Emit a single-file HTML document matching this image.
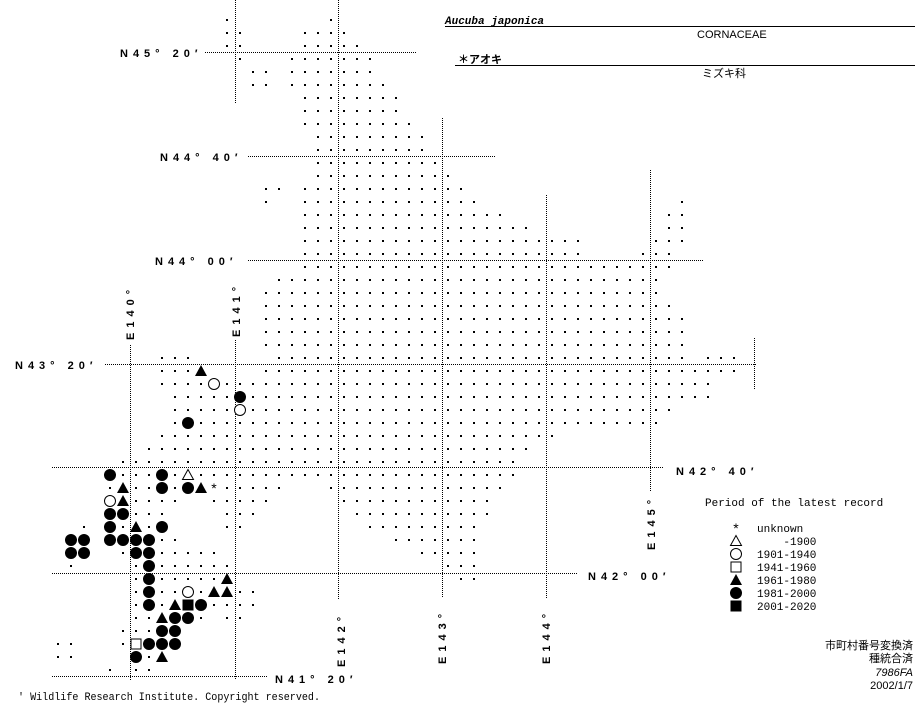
<!DOCTYPE html>
<html><head><meta charset="utf-8">
<style>
html,body{margin:0;padding:0;background:#fff;}
svg{display:block;}
.lab{font-family:"Liberation Sans",sans-serif;font-weight:bold;font-size:11px;letter-spacing:5px;fill:#000;}
.t{font-family:"Liberation Mono","Noto Sans CJK JP",monospace;font-size:11px;fill:#000;white-space:pre;}
.j{font-family:"Liberation Sans","Noto Sans CJK JP",sans-serif;font-size:11px;fill:#000;}
</style></head><body>
<svg id="m" width="923" height="703" viewBox="0 0 923 703" xmlns="http://www.w3.org/2000/svg">
<g stroke="#000" stroke-width="1" stroke-dasharray="1 1" fill="none">
<line x1="205" y1="52.5" x2="417" y2="52.5"/>
<line x1="248" y1="156.5" x2="495" y2="156.5"/>
<line x1="248" y1="260.5" x2="703" y2="260.5"/>
<line x1="105" y1="364.5" x2="757" y2="364.5"/>
<line x1="52" y1="467.5" x2="663" y2="467.5"/>
<line x1="52" y1="573.5" x2="578" y2="573.5"/>
<line x1="52" y1="676.5" x2="268" y2="676.5"/>
<line x1="130.5" y1="345" x2="130.5" y2="680"/>
<line x1="235.5" y1="0" x2="235.5" y2="104"/>
<line x1="235.5" y1="340" x2="235.5" y2="680"/>
<line x1="338.5" y1="0" x2="338.5" y2="600"/>
<line x1="442.5" y1="118" x2="442.5" y2="598"/>
<line x1="546.5" y1="195" x2="546.5" y2="598"/>
<line x1="650.5" y1="170" x2="650.5" y2="492"/>
<line x1="754.5" y1="338" x2="754.5" y2="390"/>
</g>
<text class="lab" x="120" y="57">N45° 20′</text>
<text class="lab" x="160" y="161">N44° 40′</text>
<text class="lab" x="155" y="265">N44° 00′</text>
<text class="lab" x="15" y="369">N43° 20′</text>
<text class="lab" x="676" y="475">N42° 40′</text>
<text class="lab" x="588" y="580">N42° 00′</text>
<text class="lab" x="275" y="683">N41° 20′</text>
<text class="lab" transform="translate(134,340) rotate(-90)">E140°</text>
<text class="lab" transform="translate(240,337) rotate(-90)">E141°</text>
<text class="lab" transform="translate(345,667) rotate(-90)">E142°</text>
<text class="lab" transform="translate(446,664) rotate(-90)">E143°</text>
<text class="lab" transform="translate(550,664) rotate(-90)">E144°</text>
<text class="lab" transform="translate(655,550) rotate(-90)">E145°</text>

<text x="445" y="24" style="font-family:'Liberation Mono',monospace;font-size:11px;font-weight:bold;font-style:italic">Aucuba japonica</text>
<line x1="445" y1="26.5" x2="915" y2="26.5" stroke="#000"/>
<text class="j" x="697" y="38">CORNACEAE</text>
<text class="j" x="458" y="63" style="font-weight:bold">＊アオキ</text>
<line x1="455" y1="65.5" x2="915" y2="65.5" stroke="#000"/>
<text class="j" x="702" y="77">ミズキ科</text>

<text class="t" x="705" y="506">Period of the latest record</text>
<g id="leg"></g>
<text class="t" x="757" y="532">unknown</text>
<text class="t" x="757" y="545" xml:space="preserve">    -1900</text>
<text class="t" x="757" y="558">1901-1940</text>
<text class="t" x="757" y="571">1941-1960</text>
<text class="t" x="757" y="584">1961-1980</text>
<text class="t" x="757" y="597">1981-2000</text>
<text class="t" x="757" y="610">2001-2020</text>

<text class="j" x="913" y="649" text-anchor="end">市町村番号変換済</text>
<text class="j" x="913" y="662" text-anchor="end">種統合済</text>
<text class="j" x="913" y="676" text-anchor="end" style="font-style:italic">7986FA</text>
<text class="j" x="913" y="689" text-anchor="end">2002/1/7</text>
<text class="t" x="18" y="700" textLength="302" lengthAdjust="spacingAndGlyphs">' Wildlife Research Institute. Copyright reserved.</text>
<g id="d"></g>
</svg>
<script>
var R={
0:[[0,0],[8,8]],1:[[0,1],[6,9]],2:[[0,1],[6,10]],3:[[1,1],[5,11]],4:[[2,3],[5,11]],5:[[2,3],[5,12]],
6:[[6,13]],7:[[6,13]],8:[[6,14]],9:[[7,15]],10:[[7,15]],11:[[7,16]],12:[[7,17]],
13:[[3,4],[6,18]],14:[[3,3],[6,19],[35,35]],15:[[6,21],[34,35]],16:[[6,23],[34,35]],
17:[[6,27],[33,35]],18:[[6,27],[32,34]],19:[[6,34]],20:[[4,33]],21:[[3,33]],22:[[3,34]],
23:[[3,35]],24:[[3,35]],25:[[3,35]],26:[[-5,-3],[4,35],[37,39]],27:[[-5,-3],[3,39]],
28:[[-5,-2],[0,37]],29:[[-4,0],[2,37]],30:[[-4,0],[2,34]],31:[[-4,-4],[-2,33]],
32:[[-5,25]],33:[[-6,23]],34:[[-8,22]],35:[[-8,-6],[-4,-4],[-2,22]],
36:[[-9,-9],[-7,-6],[-4,-4],[0,4],[8,21]],37:[[-7,-4],[-1,3],[9,20]],
38:[[-7,-5],[0,2],[10,20]],39:[[-11,-11],[-8,-8],[-6,-6],[0,1],[11,19]],
40:[[-5,-4],[13,19]],41:[[-8,-8],[-5,-1],[15,19]],42:[[-12,-12],[-7,-7],[-5,0],[17,19]],
43:[[-7,-7],[-5,-1],[18,19]],44:[[-7,-7],[-5,-4],[-2,-2],[1,2]],45:[[-7,-7],[-5,-5],[-1,2]],
46:[[-7,-6],[-2,-2],[0,1]],47:[[-8,-6]],48:[[-13,-12],[-8,-8]],49:[[-13,-12],[-6,-6]],50:[[-9,-9],[-7,-6]]
};
var S=[[27,-2,'T'],[28,-1,'O'],[29,1,'F'],[30,1,'O'],[31,-3,'F'],
[35,-9,'F'],[35,-5,'F'],[35,-3,'t'],
[36,-8,'T'],[36,-5,'F'],[36,-3,'F'],[36,-2,'T'],[36,-1,'*'],
[37,-9,'O'],[37,-8,'T'],[38,-9,'F'],[38,-8,'F'],
[39,-9,'F'],[39,-7,'T'],[39,-5,'F'],
[40,-12,'F'],[40,-11,'F'],[40,-9,'F'],[40,-8,'F'],[40,-7,'F'],[40,-6,'F'],
[41,-12,'F'],[41,-11,'F'],[41,-7,'F'],[41,-6,'F'],
[42,-6,'F'],[43,-6,'F'],[43,0,'T'],
[44,-6,'F'],[44,-3,'O'],[44,-1,'T'],[44,0,'T'],
[45,-6,'F'],[45,-4,'T'],[45,-3,'Q'],[45,-2,'F'],
[46,-5,'T'],[46,-4,'F'],[46,-3,'F'],
[47,-5,'F'],[47,-4,'F'],
[48,-7,'s'],[48,-6,'F'],[48,-5,'F'],[48,-4,'F'],
[49,-7,'F'],[49,-5,'T']];
var out='';
function X(c){return 227+13*c;}function Y(r){return 20+13*r;}
for(var r in R){R[r].forEach(function(a){for(var c=a[0];c<=a[1];c++){out+='<rect x="'+(X(c)-1)+'" y="'+(Y(+r)-1)+'" width="2" height="2"/>';}});}
function sym(x,y,t){
 if(t=='F')return '<circle cx="'+x+'" cy="'+y+'" r="6"/>';
 if(t=='O')return '<circle cx="'+x+'" cy="'+y+'" r="5.5" fill="#fff" stroke="#000"/>';
 if(t=='T')return '<polygon points="'+x+','+(y-6)+' '+(x-6)+','+(y+5)+' '+(x+6)+','+(y+5)+'"/>';
 if(t=='t')return '<polygon points="'+x+','+(y-5.5)+' '+(x-5.5)+','+(y+4.5)+' '+(x+5.5)+','+(y+4.5)+'" fill="#fff" stroke="#000"/>';
 if(t=='Q')return '<rect x="'+(x-5.5)+'" y="'+(y-5.5)+'" width="11" height="11"/>';
 if(t=='s')return '<rect x="'+(x-5)+'" y="'+(y-5)+'" width="10" height="10" fill="#fff" stroke="#000"/>';
 if(t=='*')return '<text x="'+x+'" y="'+(y+5)+'" text-anchor="middle" style="font-family:Liberation Sans,sans-serif;font-size:14px">*</text>';
 return '';}
S.forEach(function(s){out+=sym(X(s[1]),Y(s[0]),s[2]);});
document.getElementById('d').innerHTML=out;
var L='',ty=['*','t','O','s','T','F','Q'];
ty.forEach(function(t,i){L+=sym(736,528+13*i,t);});
document.getElementById('leg').innerHTML=L;
</script>
</body></html>
